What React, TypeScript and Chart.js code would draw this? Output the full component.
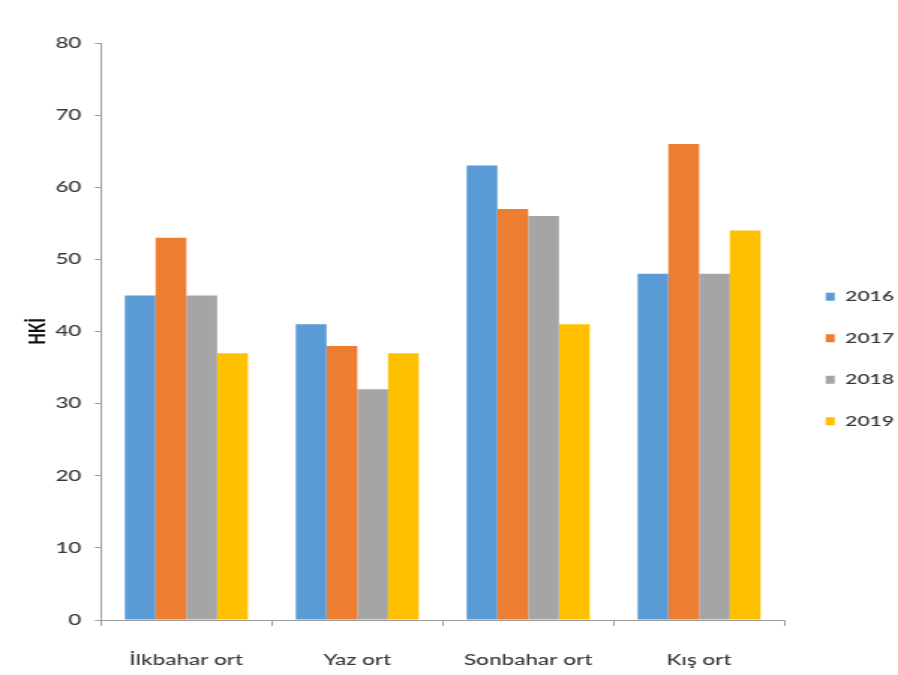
import React, { useEffect, useRef } from 'react';
import { Chart, registerables } from 'chart.js';

Chart.register(...registerables);

const categories = ['İlkbahar ort', 'Yaz ort', 'Sonbahar ort', 'Kış ort'];
const seriesNames = ['2016', '2017', '2018', '2019'];
const values2016 = [45, 41, 63, 48];
const values2017 = [53, 38, 57, 66];
const values2018 = [45, 32, 56, 48];
const values2019 = [37, 37, 41, 54];
const seriesColors = ['#5B9BD5', '#ED7D31', '#A5A5A5', '#FFC000'];
const yMin = 0;
const yMax = 80;
const yStep = 10;
const yTitle = 'HKİ';

// internal canvas is narrower and stretched horizontally to 898px (reference is stretched)
const INTERNAL_W = 599;
const H = 675;
const DISPLAY_W = 898;

export default function App() {
  const ref = useRef<HTMLCanvasElement | null>(null);

  useEffect(() => {
    if (!ref.current) return;
    const seriesValues = [values2016, values2017, values2018, values2019];
    const font = 'Lato, "Open Sans", sans-serif';
    const axisColor = '#9e9e9e';
    const textColor = '#383838';
    const chart = new Chart(ref.current, {
      type: 'bar',
      data: {
        labels: categories,
        datasets: seriesNames.map((name, i) => ({
          label: name,
          data: seriesValues[i],
          backgroundColor: seriesColors[i],
          borderWidth: 0,
          categoryPercentage: 0.72,
          barPercentage: 1,
        })),
      },
      options: {
        responsive: false,
        animation: false,
        devicePixelRatio: 1,
        layout: { padding: { top: 43, left: 0, right: 0, bottom: 0 } },
        plugins: {
          tooltip: { enabled: false },
          legend: {
            position: 'right',
            align: 'center',
            maxWidth: 75.7,
            labels: {
              boxWidth: 6,
              boxHeight: 8,
              padding: 27.5,
              color: textColor,
              font: { family: font, size: 14, weight: '600' },
            },
          },
        },
        scales: {
          x: {
            afterFit: (scale: any) => {
              scale.height = 55;
            },
            border: { display: true, color: axisColor, width: 1 },
            grid: { display: true, offset: true, drawOnChartArea: false, drawTicks: true, tickLength: 6, color: axisColor },
            ticks: { color: textColor, font: { family: font, size: 15, weight: '500' }, padding: 25, maxRotation: 0 },
          },
          y: {
            min: yMin,
            max: yMax,
            afterFit: (scale: any) => {
              scale.width = 67.3;
            },
            border: { display: true, color: axisColor, width: 1 },
            grid: { display: true, drawOnChartArea: false, drawTicks: true, tickLength: 4, color: axisColor },
            ticks: { stepSize: yStep, color: textColor, font: { family: font, size: 15, weight: '500' }, padding: 9 },
            title: {
              display: true,
              text: yTitle,
              color: '#111111',
              font: { family: font, size: 15, weight: '900' },
              padding: { top: 15.7, bottom: 0 },
            },
          },
        },
      },
    });
    return () => chart.destroy();
  }, []);

  return (
    <div style={{ position: 'absolute', left: 0, top: 0, width: DISPLAY_W, height: H, background: '#ffffff' }}>
      <canvas
        ref={ref}
        width={INTERNAL_W}
        height={H}
        style={{ width: DISPLAY_W + 'px', height: H + 'px', display: 'block' }}
      />
    </div>
  );
}
